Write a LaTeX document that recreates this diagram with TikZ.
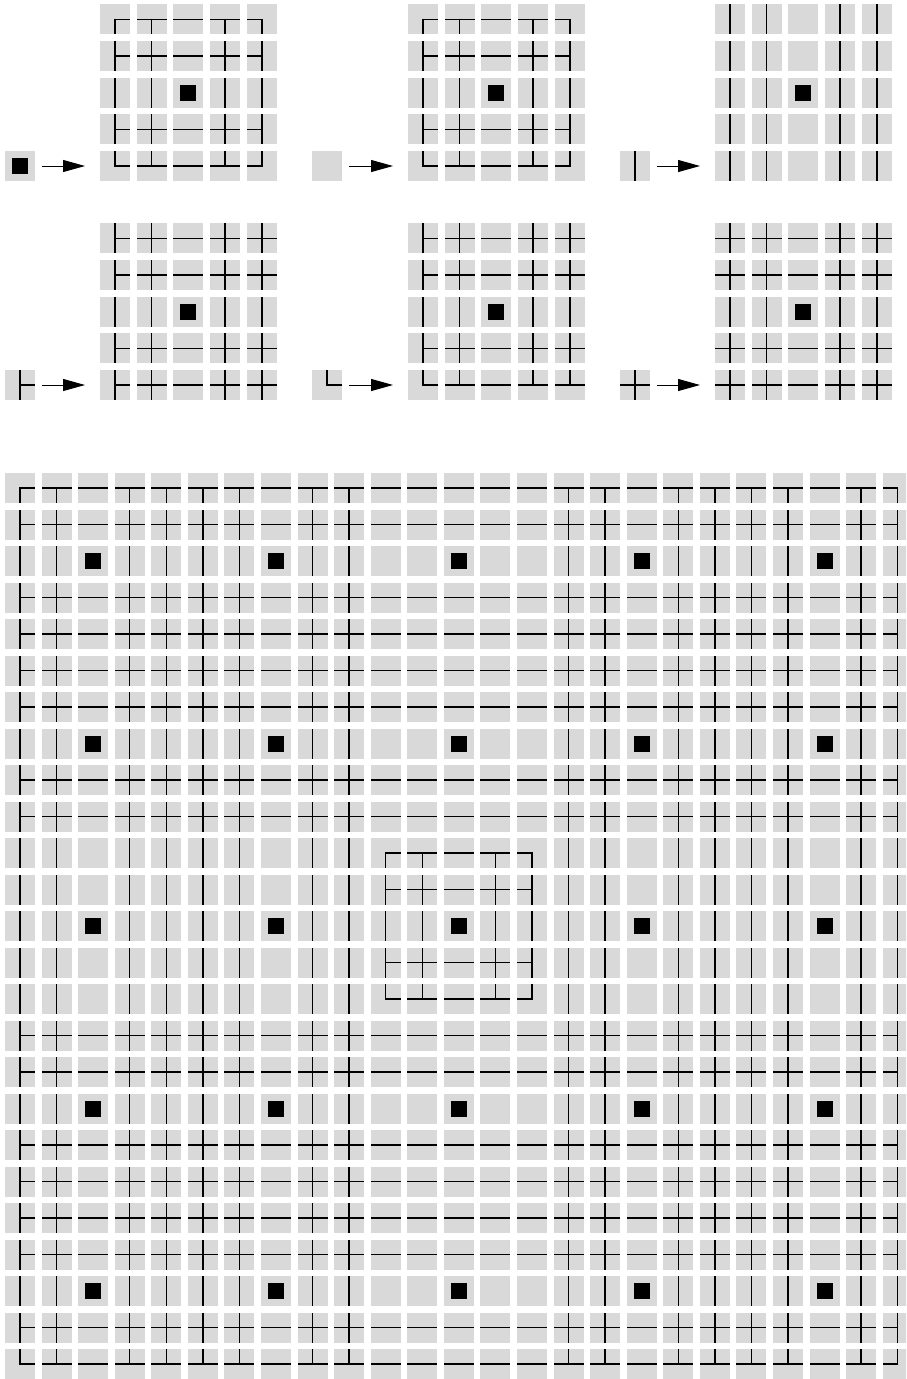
\documentclass[tikz,border=0pt]{standalone}
\usetikzlibrary{arrows.meta}
\definecolor{tilegray}{RGB}{217,217,217}
\tikzset{
  arm/.style={line width=1.5pt, black, line cap=butt},
  arr/.style={line width=1pt, black, -{Triangle[length=22pt,width=12pt]}},
  anchorbox/.style={minimum size=30pt, inner sep=0pt, draw=none, rectangle},
}
% tile: x y (top-left) N E S W square
\newcommand\drawtile[7]{%
  \begin{scope}[shift={(#1,#2)}]
    \fill[tilegray] (0,0) rectangle (30,30);
    \ifnum#3=1 \draw[arm] (15,15.75) -- (15,0);\fi
    \ifnum#4=1 \draw[arm] (14.25,15) -- (30,15);\fi
    \ifnum#5=1 \draw[arm] (15,14.25) -- (15,30);\fi
    \ifnum#6=1 \draw[arm] (15.75,15) -- (0,15);\fi
    \ifnum#7=1 \fill[black] (7,7) rectangle (23,23);\fi
  \end{scope}}
% block: x0 y0 hasV hasH pN pE pS pW  (uses \px, \py)
\newcommand\drawblock[8]{%
  \foreach \ii in {0,...,4}{
    \foreach \jj in {0,...,4}{
      \pgfmathtruncatemacro\tN{#3*(\ii!=2)*(((\jj>0)+#5)>0)}
      \pgfmathtruncatemacro\tS{#3*(\ii!=2)*(((\jj<4)+#7)>0)}
      \pgfmathtruncatemacro\tW{#4*(\jj!=2)*(((\ii>0)+#8)>0)}
      \pgfmathtruncatemacro\tE{#4*(\jj!=2)*(((\ii<4)+#6)>0)}
      \pgfmathtruncatemacro\tQ{(\ii==2)*(\jj==2)}
      \pgfmathsetmacro\tx{#1+\ii*\px}
      \pgfmathsetmacro\ty{#2+\jj*\py}
      \drawtile{\tx}{\ty}{\tN}{\tE}{\tS}{\tW}{\tQ}
    }
  }}
\begin{document}
\begin{tikzpicture}[x=1pt,y=-1pt]
\useasboundingbox (0,0) rectangle (906,1379);
\clip (0,0) rectangle (906,1379);
% ---------- rules ----------
\def\px{36.7}\def\py{36.65}
% rule 1: square
\drawtile{5}{151}{0}{0}{0}{0}{1}
\node[anchorbox] (s1) at (20,166) {};
\coordinate (g1) at (100,166);
\drawblock{100}{4.4}{1}{1}{0}{0}{0}{0}
\draw[arr] ([xshift=7pt]s1.east) -- ([xshift=-15pt]g1);
% rule 2: empty
\drawtile{312}{151}{0}{0}{0}{0}{0}
\node[anchorbox] (s2) at (327,166) {};
\coordinate (g2) at (408,166);
\drawblock{408}{4.4}{1}{1}{0}{0}{0}{0}
\draw[arr] ([xshift=7pt]s2.east) -- ([xshift=-15pt]g2);
% rule 3: vertical
\drawtile{620}{151}{1}{0}{1}{0}{0}
\node[anchorbox] (s3) at (635,166) {};
\coordinate (g3) at (715,166);
\drawblock{715}{4.4}{1}{0}{1}{0}{1}{0}
\draw[arr] ([xshift=7pt]s3.east) -- ([xshift=-15pt]g3);
% rule 4: tee (N,E,S)
\drawtile{5}{370}{1}{1}{1}{0}{0}
\node[anchorbox] (s4) at (20,385) {};
\coordinate (g4) at (100,385);
\drawblock{100}{223.4}{1}{1}{1}{1}{1}{0}
\draw[arr] ([xshift=7pt]s4.east) -- ([xshift=-15pt]g4);
% rule 5: corner (N,E)
\drawtile{312}{370}{1}{1}{0}{0}{0}
\node[anchorbox] (s5) at (327,385) {};
\coordinate (g5) at (408,385);
\drawblock{408}{223.4}{1}{1}{1}{1}{0}{0}
\draw[arr] ([xshift=7pt]s5.east) -- ([xshift=-15pt]g5);
% rule 6: cross
\drawtile{620}{370}{1}{1}{1}{1}{0}
\node[anchorbox] (s6) at (635,385) {};
\coordinate (g6) at (715,385);
\drawblock{715}{223.4}{1}{1}{1}{1}{1}{1}
\draw[arr] ([xshift=7pt]s6.east) -- ([xshift=-15pt]g6);
% ---------- second generation 25x25 ----------
\def\px{36.57}\def\py{36.5}
\foreach \aa in {0,...,4}{
  \foreach \cc in {0,...,4}{
    \pgfmathtruncatemacro\hV{1-(\aa==2)*(\cc!=2)}
    \pgfmathtruncatemacro\hH{1-(\cc==2)*(\aa!=2)}
    \pgfmathtruncatemacro\pN{(\aa!=2)*(\cc>0)}
    \pgfmathtruncatemacro\pS{(\aa!=2)*(\cc<4)}
    \pgfmathtruncatemacro\pW{(\cc!=2)*(\aa>0)}
    \pgfmathtruncatemacro\pE{(\cc!=2)*(\aa<4)}
    \pgfmathsetmacro\bx{5+5*\aa*\px}
    \pgfmathsetmacro\by{473+5*\cc*\py}
    \drawblock{\bx}{\by}{\hV}{\hH}{\pN}{\pE}{\pS}{\pW}
  }}
\end{tikzpicture}
\end{document}
